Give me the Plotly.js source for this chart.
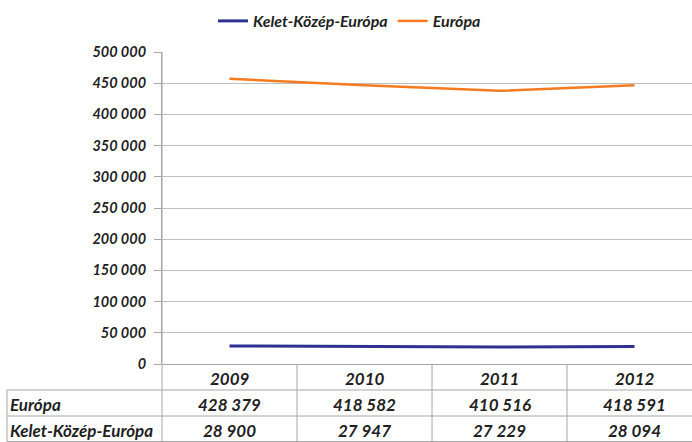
<!DOCTYPE html>
<html>
<head>
<meta charset="utf-8">
<script src="https://cdn.plot.ly/plotly-3.0.1.min.js"></script>
<style>html,body{margin:0;padding:0;background:#fff;}#chart{width:692px;height:442px;}</style>
</head>
<body>
<div id="chart"></div>
<script>
// ---- data ----
var years = ['2009', '2010', '2011', '2012'];
var seriesNames = ['Kelet-Közép-Európa', 'Európa'];
var keletKozepEuropa = [28900, 27947, 27229, 28094];
var europa = [428379, 418582, 410516, 418591];
var tableRowLabels = ['Európa', 'Kelet-Közép-Európa'];

// ---- layout helpers (pixel geometry) ----
var W = 692, H = 442;
var L = 162, T = 52, B = 364;           // plot area px
var colW = 135;                          // table column width px
var plotW = W - L, plotH = B - T;
function px2x(px) { return (px - L) / plotW; }
function py2y(py) { return (B - py) / plotH; }
var xmax = -0.5 + plotW / colW;

var FONT = 'Lato, "Liberation Sans", sans-serif';
var txtColor = '#1f1f1f';
var gridColor = '#BFBFBF';
var tableColor = '#A6A6A6';

function fmt(v) { return String(v).replace(/\B(?=(\d{3})+(?!\d))/g, ' '); }

var traces = [
  { x: years.map(function(_, i){return i;}), y: keletKozepEuropa, name: seriesNames[0],
    type: 'scatter', mode: 'lines', stackgroup: 'one', fill: 'none',
    line: { color: '#2E3192', width: 3 }, hoverinfo: 'skip' },
  { x: years.map(function(_, i){return i;}), y: europa, name: seriesNames[1],
    type: 'scatter', mode: 'lines', stackgroup: 'one', fill: 'none',
    line: { color: '#F47B20', width: 2.5 }, hoverinfo: 'skip' }
];

var shapes = [];
var annotations = [];
function hline(y, x0, x1) {
  shapes.push({ type: 'line', xref: 'paper', yref: 'paper', x0: px2x(x0), x1: px2x(x1),
    y0: py2y(y), y1: py2y(y), line: { color: tableColor, width: 1 } });
}
function vline(x, y0, y1) {
  shapes.push({ type: 'line', xref: 'paper', yref: 'paper', x0: px2x(x), x1: px2x(x),
    y0: py2y(y0), y1: py2y(y1), line: { color: tableColor, width: 1 } });
}
var rowTops = [364, 390, 416, 442];
hline(390, 7, W); hline(416, 7, W); hline(441.5, 7, W);
vline(7, 390, 442);
vline(L, T, 442);
for (var c = 1; c < years.length; c++) vline(L + c * colW, 364, 442);

function cell(text, xPaper, xanchor, rowIdx) {
  annotations.push({ xref: 'paper', yref: 'paper', x: xPaper, xanchor: xanchor,
    y: py2y((rowTops[rowIdx] + rowTops[rowIdx + 1]) / 2 + 1), yanchor: 'middle',
    text: '<b><i>' + text + '</i></b>', showarrow: false,
    font: { family: FONT, size: 17, color: txtColor } });
}
years.forEach(function(yr, i) {
  var cx = px2x(L + colW * (i + 0.5));
  cell(yr, cx, 'center', 0);
  cell(fmt(europa[i]), cx, 'center', 1);
  cell(fmt(keletKozepEuropa[i]), cx, 'center', 2);
});
cell(tableRowLabels[0], px2x(8), 'left', 1);
cell(tableRowLabels[1], px2x(8), 'left', 2);

var layout = {
  width: W, height: H,
  margin: { l: L, r: 0, t: T, b: H - B, pad: 0 },
  paper_bgcolor: '#fff', plot_bgcolor: '#fff',
  separators: ', ',
  showlegend: true,
  legend: { orientation: 'h', x: px2x(213), xanchor: 'left', y: py2y(4), yanchor: 'top',
    font: { family: FONT, size: 16, color: txtColor, weight: 'bold', style: 'italic' },
    itemwidth: 30, tracegroupgap: 0, traceorder: 'normal' },
  xaxis: { range: [-0.5, xmax], showgrid: false, zeroline: false, showticklabels: false,
    showline: false, ticks: '', fixedrange: true },
  yaxis: { range: [0, 500000], dtick: 50000, tickformat: ',d', showgrid: true,
    gridcolor: gridColor, gridwidth: 1, zeroline: true, zerolinecolor: tableColor, zerolinewidth: 1,
    showline: true, linecolor: tableColor, linewidth: 1,
    ticks: 'outside', ticklen: 7, tickcolor: tableColor, ticklabelstandoff: 5,
    tickfont: { family: FONT, size: 14.5, color: txtColor, weight: 'bold', style: 'italic' },
    fixedrange: true },
  shapes: shapes,
  annotations: annotations
};

Plotly.newPlot('chart', traces, layout, { staticPlot: true, displayModeBar: false });
</script>
</body>
</html>
